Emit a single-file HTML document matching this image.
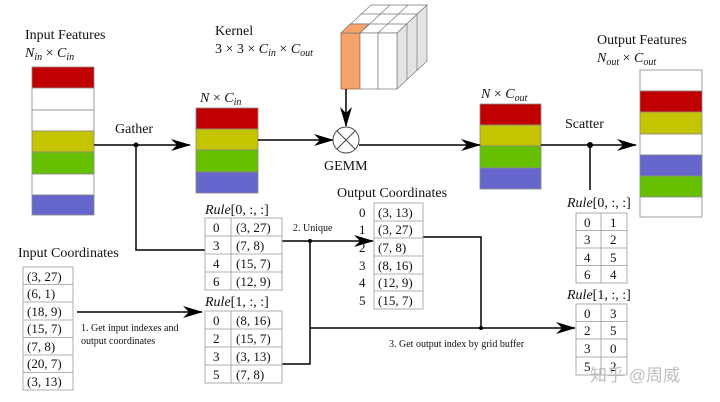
<!DOCTYPE html>
<html><head><meta charset="utf-8"><style>
html,body{margin:0;padding:0;background:#fff;width:720px;height:402px;overflow:hidden}
svg{display:block}
text{font-family:"Liberation Serif",serif;fill:#111}
.s{font-size:14px}
.m{font-size:13px}
.t{font-size:10px}
.i{font-style:italic}
</style></head><body>
<svg width="720" height="402" viewBox="0 0 720 402" xmlns="http://www.w3.org/2000/svg">
<defs>
<marker id="a" viewBox="0 0 20 12" refX="19" refY="6" markerWidth="20" markerHeight="12" markerUnits="userSpaceOnUse" orient="auto"><path d="M0,0 L20,6 L0,12 L6,6 Z" fill="#000"/></marker>
</defs>
<g stroke="#888" stroke-width="0.8">
<!-- input features -->
<rect x="32" y="67" width="62" height="21" fill="#c00000"/>
<rect x="32" y="88" width="62" height="22" fill="#fff"/>
<rect x="32" y="110" width="62" height="21" fill="#fff"/>
<rect x="32" y="131" width="62" height="21" fill="#c4c400"/>
<rect x="32" y="152" width="62" height="22" fill="#66c000"/>
<rect x="32" y="174" width="62" height="21" fill="#fff"/>
<rect x="32" y="195" width="62" height="20" fill="#6666cc"/>
<!-- N x Cin -->
<rect x="196" y="108" width="62" height="21" fill="#c00000"/>
<rect x="196" y="129" width="62" height="21" fill="#c4c400"/>
<rect x="196" y="150" width="62" height="22" fill="#66c000"/>
<rect x="196" y="172" width="62" height="21" fill="#6666cc"/>
<!-- N x Cout -->
<rect x="480" y="104" width="61" height="21" fill="#c00000"/>
<rect x="480" y="125" width="61" height="21" fill="#c4c400"/>
<rect x="480" y="146" width="61" height="22" fill="#66c000"/>
<rect x="480" y="168" width="61" height="21" fill="#6666cc"/>
<!-- output features -->
<rect x="640" y="70" width="62" height="21" fill="#fff"/>
<rect x="640" y="91" width="62" height="21" fill="#c00000"/>
<rect x="640" y="112" width="62" height="22" fill="#c4c400"/>
<rect x="640" y="134" width="62" height="21" fill="#fff"/>
<rect x="640" y="155" width="62" height="21" fill="#6666cc"/>
<rect x="640" y="176" width="62" height="21" fill="#66c000"/>
<rect x="640" y="197" width="62" height="20" fill="#fff"/>
</g>
<!-- kernel cube -->
<g stroke="#777" stroke-width="0.7">
<polygon points="341,33 397,33 427,5 371,5" fill="#fff"/>
<line x1="360" y1="33" x2="390" y2="5"/><line x1="378" y1="33" x2="408" y2="5"/>
<line x1="351" y1="24" x2="407" y2="24"/><line x1="361" y1="14" x2="417" y2="14"/>
<polygon points="397,33 427,5 427,61 397,89" fill="#e4e4e4"/>
<line x1="407" y1="24" x2="407" y2="80"/><line x1="417" y1="14" x2="417" y2="71"/>
<rect x="341" y="33" width="19" height="56" fill="#f5a26b" stroke="#9a5a2a"/>
<rect x="360" y="33" width="18" height="56" fill="#fff"/>
<rect x="378" y="33" width="19" height="56" fill="#fff"/>
<polygon points="341,33 360,33 369,24 350,24" fill="#f5a26b"/>
</g>
<!-- connectors -->
<g stroke="#000" stroke-width="1.5" fill="none">
<line x1="94" y1="145" x2="190" y2="145" marker-end="url(#a)"/>
<polyline points="136,145 136,250 205,250"/>
<line x1="258" y1="140" x2="333" y2="140" marker-end="url(#a)"/>
<line x1="346" y1="89" x2="346" y2="126" marker-end="url(#a)"/>
<line x1="359" y1="145" x2="480" y2="145" marker-end="url(#a)"/>
<line x1="541" y1="145" x2="636" y2="145" marker-end="url(#a)"/>
<line x1="590" y1="145" x2="590" y2="190"/>
<line x1="77" y1="312" x2="202" y2="312" marker-end="url(#a)"/>
<line x1="282" y1="241" x2="373" y2="241" marker-end="url(#a)"/>
<polyline points="310,241 310,364 282,364"/>
<line x1="310" y1="328" x2="575" y2="328" marker-end="url(#a)"/>
<polyline points="423,237 481,237 481,328"/>
</g>
<circle cx="346" cy="140" r="13" fill="#fff" stroke="#444" stroke-width="1"/>
<line x1="337" y1="131" x2="355" y2="149" stroke="#444"/><line x1="355" y1="131" x2="337" y2="149" stroke="#444"/>
<g fill="#000"><circle cx="136" cy="145" r="2.5"/><circle cx="590" cy="145" r="3"/><circle cx="310" cy="241" r="2"/><circle cx="481" cy="328" r="2"/></g>
<!-- tables -->
<g stroke="#999" stroke-width="0.8" fill="#fff">
<rect x="205" y="218" width="77" height="72"/><line x1="231" y1="218" x2="231" y2="290"/>
<line x1="205" y1="236" x2="282" y2="236"/><line x1="205" y1="254" x2="282" y2="254"/><line x1="205" y1="272" x2="282" y2="272"/>
<rect x="205" y="311" width="77" height="72"/><line x1="231" y1="311" x2="231" y2="383"/>
<line x1="205" y1="329" x2="282" y2="329"/><line x1="205" y1="347" x2="282" y2="347"/><line x1="205" y1="365" x2="282" y2="365"/>
<rect x="374" y="203" width="49" height="106"/>
<line x1="374" y1="221" x2="423" y2="221"/><line x1="374" y1="238" x2="423" y2="238"/><line x1="374" y1="256" x2="423" y2="256"/><line x1="374" y1="274" x2="423" y2="274"/><line x1="374" y1="291" x2="423" y2="291"/>
<rect x="23" y="267" width="50" height="123"/>
<line x1="23" y1="284.5" x2="73" y2="284.5"/><line x1="23" y1="302" x2="73" y2="302"/><line x1="23" y1="320" x2="73" y2="320"/><line x1="23" y1="337.5" x2="73" y2="337.5"/><line x1="23" y1="355" x2="73" y2="355"/><line x1="23" y1="372.5" x2="73" y2="372.5"/>
<rect x="576" y="213" width="51" height="70"/><line x1="601" y1="213" x2="601" y2="283"/>
<line x1="576" y1="230.5" x2="627" y2="230.5"/><line x1="576" y1="248" x2="627" y2="248"/><line x1="576" y1="265.5" x2="627" y2="265.5"/>
<rect x="576" y="304" width="51" height="71"/><line x1="601" y1="304" x2="601" y2="375"/>
<line x1="576" y1="321.5" x2="627" y2="321.5"/><line x1="576" y1="339" x2="627" y2="339"/><line x1="576" y1="357" x2="627" y2="357"/>
</g>
<!-- text -->
<text class="s" x="25" y="39">Input Features</text>
<text class="s" x="25" y="57"><tspan class="i">N</tspan><tspan class="i" font-size="10" dy="3">in</tspan><tspan dy="-3"> × </tspan><tspan class="i">C</tspan><tspan class="i" font-size="10" dy="3">in</tspan></text>
<text class="s" x="215" y="35">Kernel</text>
<text class="s" x="215" y="53">3 × 3 × <tspan class="i">C</tspan><tspan class="i" font-size="10" dy="3">in</tspan><tspan dy="-3"> × </tspan><tspan class="i">C</tspan><tspan class="i" font-size="10" dy="3">out</tspan></text>
<text class="s" x="115" y="133">Gather</text>
<text class="s" x="200" y="102"><tspan class="i">N</tspan> × <tspan class="i">C</tspan><tspan class="i" font-size="10" dy="3">in</tspan></text>
<text class="s" x="324" y="170">GEMM</text>
<text class="s" x="481" y="98"><tspan class="i">N</tspan> × <tspan class="i">C</tspan><tspan class="i" font-size="10" dy="3">out</tspan></text>
<text class="s" x="565" y="128">Scatter</text>
<text class="s" x="597" y="44">Output Features</text>
<text class="s" x="597" y="62"><tspan class="i">N</tspan><tspan class="i" font-size="10" dy="3">out</tspan><tspan dy="-3"> × </tspan><tspan class="i">C</tspan><tspan class="i" font-size="10" dy="3">out</tspan></text>
<text class="s" x="18" y="257">Input Coordinates</text>
<text class="s" x="337" y="197">Output Coordinates</text>
<text class="s" x="205" y="214"><tspan class="i">Rule</tspan>[0, :, :]</text>
<text class="s" x="205" y="306"><tspan class="i">Rule</tspan>[1, :, :]</text>
<text class="s" x="567" y="207"><tspan class="i">Rule</tspan>[0, :, :]</text>
<text class="s" x="567" y="299"><tspan class="i">Rule</tspan>[1, :, :]</text>
<text class="t" x="293" y="231">2. Unique</text>
<text class="t" x="81" y="331">1. Get input indexes and</text>
<text class="t" x="81" y="344">output coordinates</text>
<text class="t" x="389" y="347">3. Get output index by grid buffer</text>
<g class="m">
<text x="213" y="232">0</text><text x="236" y="232">(3, 27)</text>
<text x="213" y="250">3</text><text x="236" y="250">(7, 8)</text>
<text x="213" y="268">4</text><text x="236" y="268">(15, 7)</text>
<text x="213" y="286">6</text><text x="236" y="286">(12, 9)</text>
<text x="213" y="325">0</text><text x="236" y="325">(8, 16)</text>
<text x="213" y="343">2</text><text x="236" y="343">(15, 7)</text>
<text x="213" y="361">3</text><text x="236" y="361">(3, 13)</text>
<text x="213" y="379">5</text><text x="236" y="379">(7, 8)</text>
<text x="359" y="217">0</text><text x="378" y="217">(3, 13)</text>
<text x="359" y="234">1</text><text x="378" y="234">(3, 27)</text>
<text x="359" y="252">2</text><text x="378" y="252">(7, 8)</text>
<text x="359" y="270">3</text><text x="378" y="270">(8, 16)</text>
<text x="359" y="287">4</text><text x="378" y="287">(12, 9)</text>
<text x="359" y="305">5</text><text x="378" y="305">(15, 7)</text>
<text x="27" y="281">(3, 27)</text><text x="27" y="298">(6, 1)</text><text x="27" y="316">(18, 9)</text><text x="27" y="333">(15, 7)</text><text x="27" y="351">(7, 8)</text><text x="27" y="368">(20, 7)</text><text x="27" y="386">(3, 13)</text>
<text x="584" y="227">0</text><text x="610" y="227">1</text>
<text x="584" y="244">3</text><text x="610" y="244">2</text>
<text x="584" y="262">4</text><text x="610" y="262">5</text>
<text x="584" y="279">6</text><text x="610" y="279">4</text>
<text x="584" y="318">0</text><text x="610" y="318">3</text>
<text x="584" y="335">2</text><text x="610" y="335">5</text>
<text x="584" y="353">3</text><text x="610" y="353">0</text>
<text x="584" y="371">5</text><text x="610" y="371">2</text>
</g>
<text x="590" y="381" style="font-family:'Liberation Sans','Noto Sans CJK SC',sans-serif;font-size:17px;fill:#b8b8b8;opacity:0.9">知乎 @周威</text>
</svg>
</body></html>
